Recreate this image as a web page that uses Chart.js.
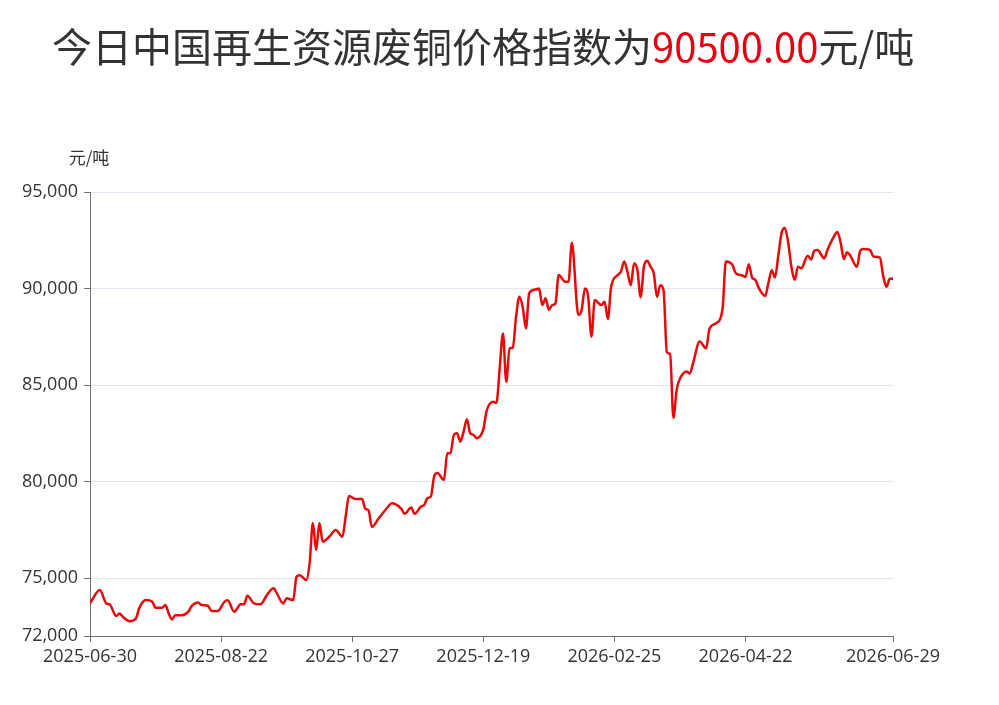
<!DOCTYPE html>
<html>
<head>
<meta charset="utf-8">
<script src="https://cdn.jsdelivr.net/npm/chart.js@4/dist/chart.umd.min.js"></script>
<style>
  body { margin: 0; background: #fff; }
  #wrap { position: relative; width: 999px; height: 705px; }
  #title {
    position: absolute; left: 52px; top: 20px; white-space: nowrap;
    font-family: "Noto Sans CJK SC", sans-serif; font-size: 40px; line-height: 50px; color: #333;
  }
  #title .num { color: #e60012; }
  canvas { position: absolute; left: 0; top: 0; }
</style>
</head>
<body>
<div id="wrap">
  <canvas id="priceChart" width="999" height="705"></canvas>
  <div id="title">今日中国再生资源废铜价格指数为<span class="num">90500.00</span>元/吨</div>
</div>
<script>
// 交易日序号（0 = 2025-06-30）和对应的价格
const days = [0,3,5,6,8,9,10,12,14,15,17,19,20,22,23,24,25,26,28,30,31,33,34,36,37,39,41,42,44,46,47,48,50,52,54,56,57,59,60,62,63,64,66,67,68,69,70,71,73,75,77,78,79,81,83,84,85,86,88,91,92,95,96,98,99,101,102,103,104,105,106,108,109,110,111,112,113,114,115,116,117,118,120,121,123,124,125,126,127,128,129,130,131,132,133,134,136,137,138,139,140,141,142,143,145,146,147,149,150,151,152,153,154,156,157,158,159,161,162,163,164,165,166,167,168,169,170,171,172,173,174,175,176,177,178,179,181,182,183,184,186,188,189,191,193,194,196,197,199,200,201,202,203,204,206,207,208,209,210,211,212,213,214,215,216,217,219,220,221,222,224,225,227,228,229,230,231,232,234,235,236,238,239,241,242,243,244,245];
const prices = [73690,74380,73690,73640,73030,73170,73000,72770,72910,73430,73860,73770,73460,73460,73600,73170,72860,73080,73080,73260,73550,73740,73600,73570,73300,73300,73770,73850,73260,73640,73640,74080,73690,73640,74120,74470,74210,73690,73950,73860,75070,75150,74900,75760,77850,76450,77850,76880,77140,77490,77140,78180,79250,79100,79100,78590,78500,77650,78070,78710,78880,78590,78330,78660,78330,78710,78800,79150,79230,80270,80440,80090,81470,81470,82420,82500,82080,82600,83230,82500,82420,82250,82700,83650,84130,84080,85850,87670,85170,86900,86930,88540,89580,89060,87940,89760,89950,90000,89140,89500,88890,89140,89220,90700,90350,90350,92370,88630,88890,90000,89570,87510,89400,89140,89310,88420,90100,90700,90880,91400,90850,90170,91310,90970,89550,91140,91440,91140,90790,89570,90170,89900,86700,86600,83300,84750,85600,85700,85600,86130,87250,86900,87920,88200,88960,91400,91230,90800,90680,90600,91260,90570,90450,90050,89620,90300,90950,90570,91700,92870,93130,92400,91130,90450,91130,91050,91700,91500,91960,92000,91560,92000,92700,92930,92400,91530,91880,91700,91130,91960,92050,92000,91660,91600,90660,90090,90500,90500];

const xTickDays = [0, 40, 80, 120, 160, 200, 245];
const xTickLabels = ['2025-06-30', '2025-08-22', '2025-10-27', '2025-12-19', '2026-02-25', '2026-04-22', '2026-06-29'];
const yTicks = [72000, 75000, 80000, 85000, 90000, 95000];

const axisColor = '#6e7079';
const labelFont = { family: 'Open Sans', size: 18 };

// 纵轴单位
const unitLabel = {
    id: 'unitLabel',
    afterDraw(chart) {
        const c = chart.ctx;
        c.save();
        c.font = '17px "Noto Sans CJK SC"';
        c.fillStyle = '#333';
        c.textAlign = 'center';
        c.textBaseline = 'middle';
        c.fillText('元/吨', chart.chartArea.left - 1, chart.chartArea.top - 34);
        c.restore();
    }
};

const ctx = document.getElementById('priceChart').getContext('2d');
new Chart(ctx, {
    type: 'line',
    data: {
        datasets: [{
            data: days.map((d, i) => ({ x: d, y: prices[i] })),
            borderColor: '#e60a0a',
            borderWidth: 2.5,
            pointRadius: 0,
            cubicInterpolationMode: 'monotone',
            fill: false
        }]
    },
    options: {
        responsive: false,
        animation: false,
        layout: { padding: { left: 0, right: 106, top: 192, bottom: 0 } },
        plugins: { legend: { display: false }, tooltip: { enabled: false } },
        scales: {
            x: {
                type: 'linear',
                min: 0,
                max: 245,
                afterBuildTicks: axis => { axis.ticks = xTickDays.map(v => ({ value: v })); },
                afterFit: axis => { axis.height = 69; },
                grid: { drawOnChartArea: false, drawTicks: true, tickLength: 6, tickColor: axisColor },
                border: { display: true, color: axisColor },
                ticks: {
                    autoSkip: false,
                    maxRotation: 0,
                    color: '#333',
                    font: labelFont,
                    padding: 4,
                    callback: v => xTickLabels[xTickDays.indexOf(v)]
                }
            },
            y: {
                min: 72000,
                max: 95000,
                afterBuildTicks: axis => { axis.ticks = yTicks.map(v => ({ value: v })); },
                afterFit: axis => { axis.width = 90; },
                grid: { color: '#e0e6f1', tickLength: 6, tickColor: axisColor },
                border: { display: true, color: axisColor },
                ticks: {
                    color: '#333',
                    font: labelFont,
                    padding: 6,
                    callback: v => v.toLocaleString('en-US')
                }
            }
        }
    },
    plugins: [unitLabel]
});
</script>
</body>
</html>
